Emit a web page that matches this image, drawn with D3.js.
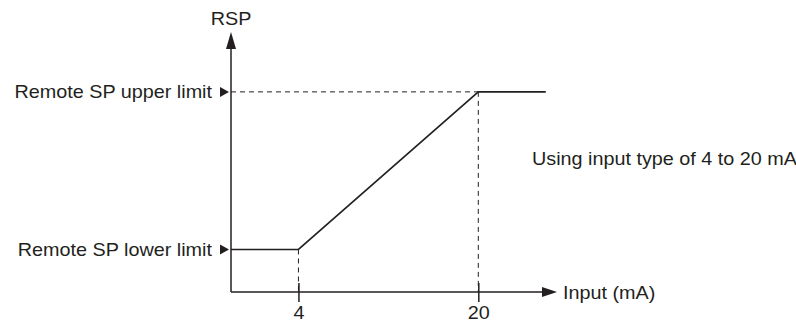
<!DOCTYPE html>
<html>
<head>
<meta charset="utf-8">
<script src="https://cdn.jsdelivr.net/npm/d3@7"></script>
<style>
  body { margin: 0; background: #fff; }
  svg text { font-family: "Liberation Sans", Arial, Helvetica, sans-serif; font-size: 18px; fill: #231f20; }
</style>
</head>
<body>
<svg id="graphic" width="796" height="321"></svg>
<script>
// input current (mA) vs remote set point (% of the SP limit span)
const inputs = [-2, 4, 20, 26];
const rsp = [0, 0, 100, 100];
const xTicks = [4, 20];
const limitValues = [0, 100];
const limitLabels = ['Remote SP lower limit', 'Remote SP upper limit'];
const xDomain = [-2, 27];
const yDomain = [-27, 138];

const ink = '#231f20';
const stretch = 'scale(1.1,1)';

const svg = d3.select('#graphic');

const xScale = d3.scaleLinear().domain(xDomain).range([231, 557]);
const yScale = d3.scaleLinear().domain(yDomain).range([292, 32]);

const x0 = xScale(xDomain[0]);
const y0 = yScale(yDomain[0]);
const arrowLen = 15;
const arrowHalf = 5;

// x axis
const xAxis = d3.axisBottom(xScale)
    .tickValues(xTicks)
    .tickSizeOuter(0)
    .tickSize(10)
    .tickFormat(d3.format('d'));

const gx = svg.append('g')
    .attr('transform', `translate(0, ${y0})`)
    .call(xAxis);

gx.attr('font-size', null).attr('font-family', null);

gx.select('.domain')
    .attr('d', `M${x0},0H${xScale(xDomain[1]) - arrowLen}`)
    .attr('stroke', ink)
    .attr('stroke-width', 1.5);

gx.selectAll('.tick line')
    .attr('y1', -9)
    .attr('y2', 10)
    .attr('stroke', ink)
    .attr('stroke-width', 1.5);

gx.selectAll('.tick text')
    .attr('y', 0)
    .attr('dy', 0)
    .attr('transform', `translate(0, 26.5) ${stretch}`)
    .style('fill', ink);

// y axis
const gy = svg.append('g')
    .attr('transform', `translate(${x0}, 0)`)
    .call(d3.axisLeft(yScale).tickValues([]).tickSizeOuter(0));

gy.select('.domain')
    .attr('d', `M0,${y0}V${yScale(yDomain[1]) + arrowLen}`)
    .attr('stroke', ink)
    .attr('stroke-width', 1.5);

// arrow heads
const xEnd = xScale(xDomain[1]);
const yEnd = yScale(yDomain[1]);
svg.append('path')
    .attr('d', `M${xEnd},${y0}L${xEnd - arrowLen},${y0 - arrowHalf}L${xEnd - arrowLen},${y0 + arrowHalf}Z`)
    .attr('fill', ink);
svg.append('path')
    .attr('d', `M${x0},${yEnd}L${x0 - arrowHalf},${yEnd + arrowLen + 2}L${x0 + arrowHalf},${yEnd + arrowLen + 2}Z`)
    .attr('fill', ink);

// guide lines (dashed)
const dash = '5,4';
const guides = [
  [[xDomain[0], rsp[2]], [inputs[2], rsp[2]]],
  [[inputs[2], rsp[2]], [inputs[2], yDomain[0]]],
  [[inputs[1], rsp[1]], [inputs[1], yDomain[0]]],
];
svg.selectAll('.guide')
    .data(guides)
    .enter()
    .append('line')
    .classed('guide', true)
    .attr('x1', (d) => xScale(d[0][0]))
    .attr('y1', (d) => yScale(d[0][1]))
    .attr('x2', (d) => xScale(d[1][0]))
    .attr('y2', (d) => yScale(d[1][1]))
    .attr('stroke', ink)
    .attr('stroke-width', 1)
    .attr('stroke-dasharray', dash);

// characteristic line
const line = d3.line()
    .x((d) => xScale(d[0]))
    .y((d) => yScale(d[1]));

svg.append('path')
    .datum(inputs.map((v, i) => [v, rsp[i]]))
    .attr('d', line)
    .attr('fill', 'none')
    .attr('stroke', ink)
    .attr('stroke-width', 1.6);

// limit labels with markers
const limits = svg.selectAll('.limit')
    .data(limitValues)
    .enter()
    .append('g')
    .classed('limit', true);

limits.append('path')
    .attr('d', (d) => {
      const y = yScale(d);
      return `M${x0 - 2},${y}L${x0 - 11},${y - 5}L${x0 - 11},${y + 5}Z`;
    })
    .attr('fill', ink);

limits.append('text')
    .attr('text-anchor', 'end')
    .attr('transform', (d) => `translate(${x0 - 19}, ${yScale(d) + 6.5}) ${stretch}`)
    .text((d, i) => limitLabels[i]);

// axis titles and note
svg.append('text')
    .attr('text-anchor', 'middle')
    .attr('transform', `translate(${x0}, ${yEnd - 7}) ${stretch}`)
    .text('RSP');

svg.append('text')
    .attr('transform', `translate(${xEnd + 6}, ${y0 + 7}) ${stretch}`)
    .text('Input (mA)');

svg.append('text')
    .attr('transform', `translate(532, 165) ${stretch}`)
    .text('Using input type of 4 to 20 mA');
</script>
</body>
</html>
